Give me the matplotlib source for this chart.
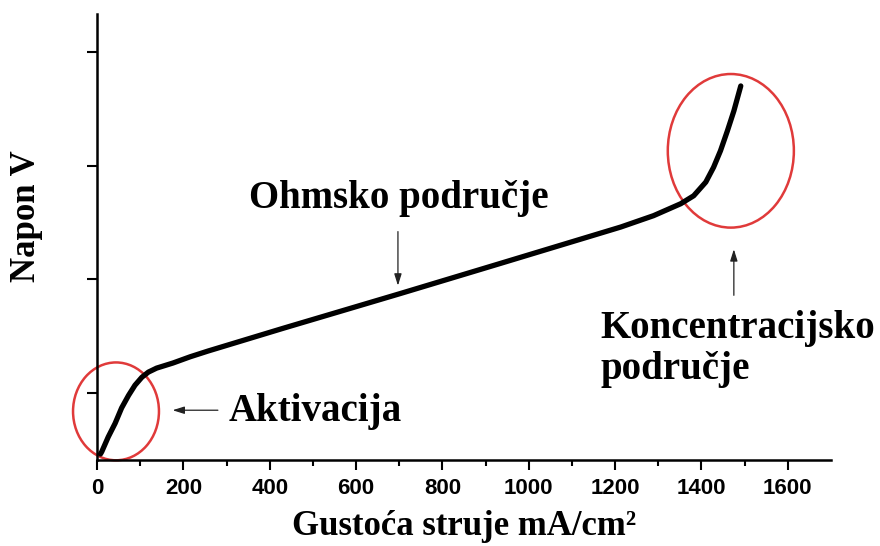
import matplotlib
matplotlib.use("Agg")
import matplotlib.pyplot as plt
from matplotlib.patches import Ellipse
from matplotlib import font_manager
import numpy as np

# ---- data ----
current_density = [8, 11, 26, 42, 57, 73, 88, 104, 119, 138, 176, 216, 257,
                   431, 702, 934, 1213, 1289, 1352, 1382, 1410, 1428, 1444,
                   1460, 1475, 1491]
voltage = [0.293, 0.297, 0.323, 0.347, 0.374, 0.396, 0.414, 0.428, 0.437,
           0.444, 0.453, 0.464, 0.474, 0.514, 0.575, 0.628, 0.692, 0.712,
           0.733, 0.747, 0.771, 0.797, 0.826, 0.861, 0.896, 0.940]
x_ticks = [0, 200, 400, 600, 800, 1000, 1200, 1400, 1600]
y_ticks = [0.4, 0.6, 0.8, 1.0]

names = {f.name for f in font_manager.fontManager.ttflist}
if "Liberation Sans Narrow" in names:
    tick_font, tick_size = "Liberation Sans Narrow", 18
else:
    tick_font, tick_size = "Liberation Sans", 16
serif = ["Liberation Serif", "DejaVu Serif"]

fig = plt.figure(figsize=(8.8, 5.46), dpi=100)
ax = fig.add_axes([97/880, 1-460/546, (831-97)/880, (460-14)/546])

ax.plot(current_density, voltage, color="black", lw=3.8,
        solid_capstyle="round", solid_joinstyle="round")

ax.set_xlim(0, 1700)
ax.set_ylim(0.2825, 1.0665)
ax.set_xticks(x_ticks)
ax.set_xticks(np.arange(100, 1700, 200), minor=True)
ax.set_yticks(y_ticks)
ax.set_yticklabels([])
for s in ["top", "right"]:
    ax.spines[s].set_visible(False)
for s in ["left", "bottom"]:
    ax.spines[s].set_linewidth(1.8)
ax.tick_params(axis="both", which="major", direction="out", length=7, width=1.5)
ax.tick_params(axis="x", which="minor", direction="out", length=4, width=1.5)
ax.tick_params(axis="x", pad=6)
for lab in ax.get_xticklabels():
    lab.set_fontfamily(tick_font)
    lab.set_fontweight("bold")
    lab.set_fontsize(tick_size)

ax.set_xlabel("Gustoća struje mA/cm²", family=serif, fontweight="bold",
              fontsize=25, labelpad=8)
ax.set_ylabel("Napon V", family=serif, fontweight="bold", fontsize=25)
ax.yaxis.set_label_coords(-0.074, 0.547)

# highlight ellipses
ax.add_patch(Ellipse((44, 0.368), 199, 0.172, fill=False, edgecolor="#e03a3a",
                     lw=1.8, clip_on=False))
ax.add_patch(Ellipse((1468, 0.826), 292, 0.270, fill=False, edgecolor="#e03a3a",
                     lw=1.8, clip_on=False))

arrow = dict(arrowstyle="-|>,head_length=0.7,head_width=0.22",
             color="#222222", lw=0.9, shrinkA=0, shrinkB=0)
# Ohmsko
ax.text(700, 0.743, "Ohmsko područje", family=serif, fontweight="bold",
        fontsize=28, ha="center", va="center")
ax.annotate("", xy=(697, 0.589), xytext=(697, 0.684), arrowprops=arrow)
# Aktivacija
ax.text(305, 0.368, "Aktivacija", family=serif, fontweight="bold",
        fontsize=28, ha="left", va="center")
ax.annotate("", xy=(175, 0.370), xytext=(280, 0.370), arrowprops=arrow)
# Koncentracijsko
ax.text(1165, 0.478, "Koncentracijsko\npodručje", family=serif,
        fontweight="bold", fontsize=28, ha="left", va="center",
        linespacing=1.15, clip_on=False)
ax.annotate("", xy=(1475, 0.653), xytext=(1475, 0.572), arrowprops=arrow)

fig.savefig("out.png", dpi=100, facecolor="white")
